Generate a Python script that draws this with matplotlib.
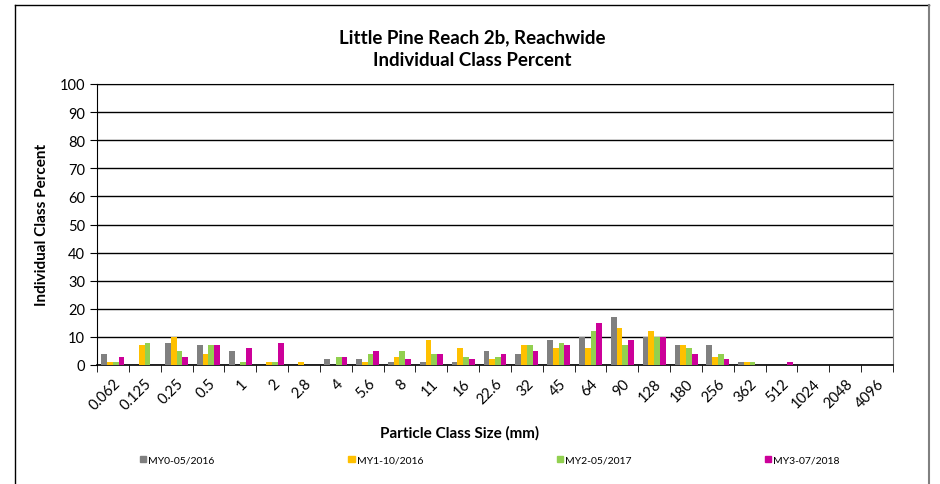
import matplotlib.pyplot as plt
import numpy as np
from matplotlib.lines import Line2D
from matplotlib.patches import Patch

plt.rcParams['font.family'] = ['Lato', 'DejaVu Sans']

sizes = ['0.062', '0.125', '0.25', '0.5', '1', '2', '2.8', '4', '5.6', '8', '11', '16',
         '22.6', '32', '45', '64', '90', '128', '180', '256', '362', '512', '1024', '2048', '4096']
my0 = [4, 0, 8, 7, 5, 0, 0, 2, 2, 1, 1, 1, 5, 4, 9, 10, 17, 10, 7, 7, 1, 0, 0, 0, 0]
my1 = [1, 7, 10, 4, 0, 1, 1, 0, 1, 3, 9, 6, 2, 7, 6, 6, 13, 12, 7, 3, 1, 0, 0, 0, 0]
my2 = [1, 8, 5, 7, 1, 1, 0, 3, 4, 5, 4, 3, 3, 7, 8, 12, 7, 10, 6, 4, 1, 0, 0, 0, 0]
my3 = [3, 0, 3, 7, 6, 8, 0, 3, 5, 2, 4, 2, 4, 5, 7, 15, 9, 10, 4, 2, 0, 1, 0, 0, 0]
series = [('MY0-05/2016', my0, '#808080'),
          ('MY1-10/2016', my1, '#FFC000'),
          ('MY2-05/2017', my2, '#92D050'),
          ('MY3-07/2018', my3, '#CC0099')]

fig = plt.figure(figsize=(9.4, 4.85), dpi=100)
ax = fig.add_axes([97/940, 1-366/485, (893-97)/940, (366-85)/485])

x = np.arange(len(sizes))
w = 0.18
for i, (name, vals, col) in enumerate(series):
    ax.bar(x + (i - 1.5) * w, vals, w, color=col, label=name, zorder=3)

ax.set_xlim(-0.5, len(sizes) - 0.5)
ax.set_ylim(0, 100)
ax.set_yticks(np.arange(0, 101, 10))
ax.yaxis.grid(True, color='black', linewidth=1.0, zorder=0)
ax.set_xticks(x)
ax.set_xticklabels(sizes, rotation=45, ha='right', rotation_mode='anchor', fontsize=10.5)
ax.set_xticks(np.arange(-0.5, len(sizes)), minor=True)
ax.tick_params(axis='x', which='major', length=0, pad=8)
ax.tick_params(axis='x', which='minor', length=5, color='black')
ax.tick_params(axis='y', length=5, labelsize=10.5)
for s in ['left', 'bottom', 'top']:
    ax.spines[s].set_color('black')
ax.spines['right'].set_color('#808080')
ax.spines['bottom'].set_linewidth(1.2)

fig.text(42/940, 1-225/485, 'Individual Class Percent', fontsize=11, fontweight='bold',
         rotation=90, ha='center', va='center')
fig.text(460/940, 1-433/485, 'Particle Class Size (mm)', fontsize=11, fontweight='bold',
         ha='center', va='center')
fig.text(472/940, 1-38/485, 'Little Pine Reach 2b, Reachwide', fontsize=13.5,
         fontweight='bold', ha='center', va='center')
fig.text(472/940, 1-60/485, 'Individual Class Percent', fontsize=13.5,
         fontweight='bold', ha='center', va='center')

handles = [Patch(color=c) for _, _, c in series]
fig.legend(handles, [s[0] for s in series], ncol=4, mode='expand', loc='center',
           bbox_to_anchor=(140/940, 1-468/485, (840-140)/940, 14/485),
           frameon=False, fontsize=7.5, handlelength=0.6, handleheight=0.6,
           handletextpad=0.2, borderaxespad=0, borderpad=0)

# outer chart border
fig.add_artist(Line2D([15/940, 15/940], [0, 1-6/485], color='black', lw=1))
fig.add_artist(Line2D([15/940, 929/940], [1-6/485, 1-6/485], color='black', lw=1))
fig.add_artist(Line2D([929/940, 929/940], [0, 1-6/485], color='#808080', lw=1.5))

fig.savefig('out.png', dpi=100)
